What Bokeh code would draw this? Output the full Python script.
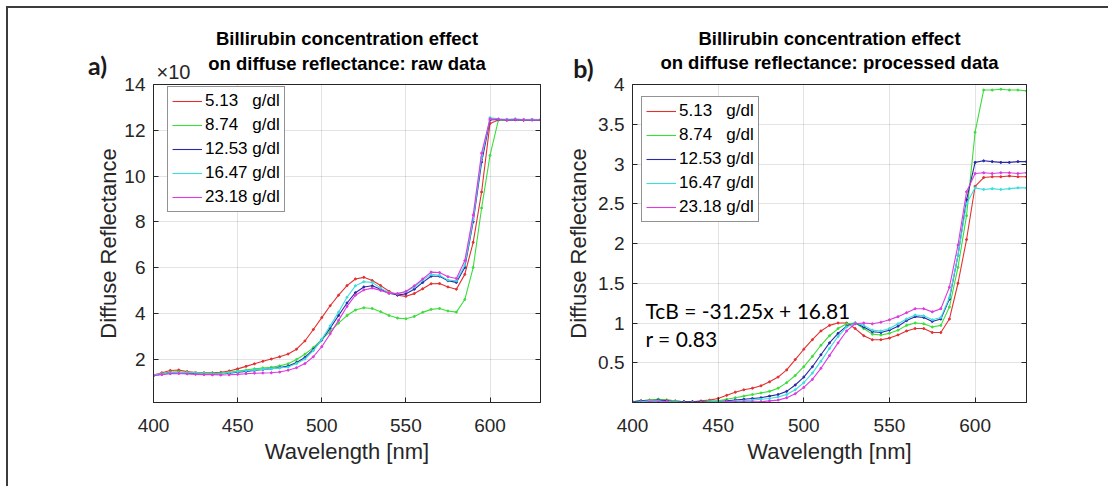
from bokeh.plotting import figure
from bokeh.models import (Range1d, FixedTicker, LinearAxis, Label, Legend, LegendItem,
                          NumeralTickFormatter)
from bokeh.layouts import row, column
from bokeh.embed import file_html
from bokeh.resources import INLINE

# ---------------- data ----------------
wavelength = [400, 405, 410, 415, 420, 425, 430, 435, 440, 445, 450, 455, 460, 465, 470, 475,
              480, 485, 490, 495, 500, 505, 510, 515, 520, 525, 530, 535, 540, 545, 550, 555,
              560, 565, 570, 575, 580, 585, 590, 595, 600, 605, 610, 615, 620, 625, 630]

series_labels = ["5.13\u00a0\u00a0\u00a0g/dl", "8.74\u00a0\u00a0\u00a0g/dl", "12.53 g/dl",
                 "16.47 g/dl", "23.18 g/dl"]

# panel a: raw data
raw_513 = [1.30, 1.40, 1.50, 1.52, 1.45, 1.41, 1.40, 1.40, 1.42, 1.48, 1.57, 1.68, 1.79, 1.90, 2.00, 2.10,
           2.22, 2.43, 2.79, 3.29, 3.81, 4.33, 4.79, 5.21, 5.50, 5.57, 5.43, 5.21, 4.96, 4.79, 4.74, 4.86,
           5.07, 5.29, 5.30, 5.15, 5.05, 5.70, 7.10, 9.30, 12.30, 12.45, 12.45, 12.47, 12.45, 12.46, 12.45]
raw_874 = [1.30, 1.36, 1.43, 1.44, 1.42, 1.40, 1.39, 1.38, 1.38, 1.42, 1.47, 1.52, 1.57, 1.61, 1.64, 1.70,
           1.79, 1.98, 2.21, 2.50, 2.86, 3.21, 3.57, 3.90, 4.14, 4.24, 4.21, 4.07, 3.90, 3.79, 3.76, 3.86,
           4.04, 4.17, 4.21, 4.10, 4.05, 4.60, 6.00, 8.60, 10.90, 12.45, 12.45, 12.46, 12.45, 12.45, 12.44]
raw_1253 = [1.28, 1.34, 1.40, 1.41, 1.38, 1.36, 1.35, 1.34, 1.35, 1.38, 1.42, 1.46, 1.50, 1.54, 1.58, 1.63,
            1.69, 1.85, 2.07, 2.42, 2.83, 3.35, 3.90, 4.45, 4.90, 5.15, 5.20, 5.05, 4.88, 4.80, 4.85, 5.05,
            5.35, 5.62, 5.62, 5.42, 5.35, 6.00, 8.00, 10.60, 12.45, 12.47, 12.45, 12.46, 12.45, 12.46, 12.45]
raw_1647 = [1.30, 1.35, 1.40, 1.41, 1.40, 1.39, 1.37, 1.35, 1.35, 1.40, 1.45, 1.49, 1.52, 1.55, 1.58, 1.61,
            1.65, 1.80, 2.00, 2.37, 2.86, 3.45, 4.05, 4.70, 5.20, 5.38, 5.35, 5.10, 4.90, 4.85, 4.95, 5.15,
            5.45, 5.70, 5.66, 5.45, 5.42, 6.10, 8.10, 10.80, 12.55, 12.50, 12.48, 12.50, 12.47, 12.48, 12.47]
raw_2318 = [1.28, 1.32, 1.36, 1.37, 1.35, 1.33, 1.32, 1.31, 1.30, 1.31, 1.33, 1.36, 1.38, 1.39, 1.40, 1.43,
            1.51, 1.62, 1.80, 2.10, 2.54, 3.10, 3.69, 4.30, 4.79, 5.02, 5.10, 5.00, 4.88, 4.86, 4.95, 5.20,
            5.50, 5.80, 5.78, 5.60, 5.52, 6.30, 8.30, 11.00, 12.50, 12.48, 12.45, 12.47, 12.46, 12.45, 12.46]

# panel b: processed data
proc_513 = [0.01, 0.02, 0.03, 0.04, 0.03, 0.02, 0.01, 0.01, 0.02, 0.03, 0.05, 0.09, 0.13, 0.16, 0.18, 0.21,
            0.26, 0.32, 0.41, 0.54, 0.67, 0.79, 0.90, 0.97, 1.00, 1.00, 0.93, 0.84, 0.79, 0.79, 0.81, 0.85,
            0.90, 0.93, 0.93, 0.88, 0.88, 1.05, 1.50, 2.05, 2.72, 2.83, 2.84, 2.84, 2.85, 2.84, 2.84]
proc_874 = [0.01, 0.02, 0.03, 0.04, 0.03, 0.02, 0.01, 0.01, 0.01, 0.02, 0.02, 0.04, 0.06, 0.08, 0.10, 0.12,
            0.14, 0.18, 0.25, 0.34, 0.45, 0.58, 0.72, 0.84, 0.93, 0.99, 1.00, 0.93, 0.86, 0.85, 0.87, 0.91,
            0.97, 1.00, 0.99, 0.95, 0.97, 1.20, 1.70, 2.35, 3.40, 3.93, 3.93, 3.94, 3.93, 3.93, 3.92]
proc_1253 = [0.01, 0.02, 0.02, 0.03, 0.02, 0.01, 0.01, 0.01, 0.01, 0.01, 0.01, 0.02, 0.03, 0.04, 0.05, 0.06,
             0.08, 0.10, 0.14, 0.22, 0.32, 0.45, 0.60, 0.75, 0.87, 0.96, 1.00, 0.95, 0.89, 0.88, 0.91, 0.96,
             1.03, 1.08, 1.07, 1.02, 1.05, 1.30, 1.85, 2.55, 3.02, 3.04, 3.03, 3.02, 3.02, 3.03, 3.03]
proc_1647 = [0.00, 0.01, 0.02, 0.02, 0.01, 0.01, 0.00, 0.00, 0.00, 0.01, 0.01, 0.01, 0.02, 0.02, 0.03, 0.04,
             0.05, 0.07, 0.10, 0.16, 0.25, 0.37, 0.52, 0.68, 0.83, 0.95, 1.00, 0.97, 0.91, 0.90, 0.93, 0.99,
             1.05, 1.10, 1.09, 1.04, 1.07, 1.32, 1.85, 2.50, 2.70, 2.68, 2.69, 2.68, 2.69, 2.70, 2.70]
proc_2318 = [0.00, 0.00, 0.01, 0.01, 0.01, 0.00, 0.00, 0.00, 0.00, 0.00, 0.00, 0.01, 0.01, 0.01, 0.01, 0.01,
             0.02, 0.03, 0.06, 0.11, 0.19, 0.29, 0.43, 0.59, 0.75, 0.90, 0.99, 1.00, 0.99, 1.01, 1.04, 1.08,
             1.13, 1.18, 1.18, 1.14, 1.18, 1.45, 1.98, 2.65, 2.88, 2.89, 2.88, 2.89, 2.89, 2.88, 2.89]

x_ticks = [400, 450, 500, 550, 600]
y_ticks_a = [2, 4, 6, 8, 10, 12, 14]
y_ticks_b = [0.5, 1, 1.5, 2, 2.5, 3, 3.5, 4]

colors = ["#e42f2f", "#3ade3a", "#2a2aa8", "#3adede", "#de3ade"]

TXT = "#262626"
FONT = "Liberation Sans"

# page layout: content starts at (8, 8) after margin + border
OX = 8
HEADER_H = 84          # header overlay spans page y 8..92
ROW_TOP = 75           # plot row starts at page y 75 (header overlaps it by 17 px)
ROW_H = 486 - ROW_TOP


def make_panel(width, height, lb, rb, tb, bb, yr, yticks, series, leg_loc, ylabel_standoff):
    p = figure(width=width, height=height, output_backend="svg", toolbar_location=None,
               title=None, x_range=Range1d(400, 630), y_range=Range1d(*yr),
               min_border_left=lb, min_border_right=rb, min_border_top=tb, min_border_bottom=bb)
    p.background_fill_color = "white"
    p.border_fill_color = "white"
    p.outline_line_color = TXT
    p.outline_line_width = 1
    for ax in (p.xaxis[0], p.yaxis[0]):
        ax.major_tick_in = 5
        ax.major_tick_out = 0
        ax.minor_tick_line_color = None
        ax.axis_line_color = TXT
        ax.major_tick_line_color = TXT
        ax.major_label_text_font = FONT
        ax.major_label_text_font_size = "19px"
        ax.major_label_text_color = TXT
        ax.axis_label_text_font = FONT
        ax.axis_label_text_font_size = "22px"
        ax.axis_label_text_font_style = "normal"
        ax.axis_label_text_color = TXT
    p.xaxis.ticker = FixedTicker(ticks=x_ticks)
    p.yaxis.ticker = FixedTicker(ticks=yticks)
    p.yaxis.formatter = NumeralTickFormatter(format="0.[0]")
    p.xaxis.axis_label = "Wavelength [nm]"
    p.yaxis.axis_label = "Diffuse Reflectance"
    p.xaxis.major_label_standoff = 16
    p.yaxis.major_label_standoff = 8
    p.xaxis.axis_label_standoff = 4
    p.yaxis.axis_label_standoff = ylabel_standoff
    # box ticks on the right side
    right = LinearAxis(ticker=FixedTicker(ticks=yticks), major_label_text_color=None,
                       major_label_text_font_size="1px",
                       major_tick_in=5, major_tick_out=0, minor_tick_line_color=None,
                       axis_line_color=TXT, major_tick_line_color=TXT, major_label_standoff=0)
    p.add_layout(right, "right")
    p.grid.grid_line_color = TXT
    p.grid.grid_line_alpha = 0.13
    p.xgrid.ticker = FixedTicker(ticks=x_ticks)
    p.ygrid.ticker = FixedTicker(ticks=yticks)

    items = []
    for lab, col, ys in zip(series_labels, colors, series):
        lr = p.line(wavelength, ys, line_color=col, line_width=1.1)
        p.scatter(wavelength, ys, size=2.0, color=col)
        items.append(LegendItem(label=lab, renderers=[lr]))
    leg = Legend(items=items, location=leg_loc, label_text_font=FONT, label_text_font_size="17px",
                 label_text_color="#000000", glyph_width=30, glyph_height=20, label_height=20,
                 label_width=10, label_standoff=3, spacing=4, padding=4, margin=0,
                 border_line_color=TXT, border_line_width=1,
                 background_fill_color="white", background_fill_alpha=1)
    p.add_layout(leg)
    return p


# header overlay carrying titles and panel letters (transparent, drawn on top)
header = figure(width=1100, height=HEADER_H, output_backend="svg", toolbar_location=None,
                title=None, x_axis_location=None, y_axis_location=None,
                x_range=Range1d(0, 1), y_range=Range1d(0, 1),
                min_border_left=0, min_border_right=0, min_border_top=0, min_border_bottom=0,
                styles={"margin-bottom": f"-{OX + HEADER_H - ROW_TOP}px", "position": "relative",
                        "z-index": "5"})
header.outline_line_color = None
header.grid.visible = False
header.background_fill_color = None
header.border_fill_color = None


def hput(px, py, text, **kw):
    header.add_layout(Label(x=px - OX, y=(OX + HEADER_H) - py, x_units="screen", y_units="screen",
                            text=text, **kw))


title_kw = dict(text_font=FONT, text_font_size="18.5px", text_font_style="bold",
                text_color="#000000", text_align="center", text_baseline="middle")
letter_kw = dict(text_font="Lato", text_font_size="25px", text_font_style="bold",
                 text_color="#1a1a1a", text_align="center", text_baseline="middle")

hput(346.5, 38, "Billirubin concentration effect", **title_kw)
hput(346.5, 63, "on diffuse reflectance: raw data", **title_kw)
hput(829, 38, "Billirubin concentration effect", **title_kw)
hput(829, 62, "on diffuse reflectance: processed data", **title_kw)
hput(97, 64, "a)", **letter_kw)
hput(583, 67, "b)", **letter_kw)
hput(156, 71, "\u00d710", text_font=FONT, text_font_size="20px", text_color=TXT,
     text_align="left", text_baseline="middle")

# plot panels (page y ROW_TOP..486)
pa = make_panel(552, ROW_H, 145, 20, 80 - ROW_TOP, ROW_H - (402 - ROW_TOP), (0.1, 14), y_ticks_a,
                [raw_513, raw_874, raw_1253, raw_1647, raw_2318], (14, 190), 0)
pb = make_panel(548, ROW_H, 72, 82, 84 - ROW_TOP, ROW_H - (403 - ROW_TOP), (0, 4), y_ticks_b,
                [proc_513, proc_874, proc_1253, proc_1647, proc_2318], (9, 180), 4)


def put(p, fx0, fy0, px, py, text, **kw):
    p.add_layout(Label(x=px - fx0, y=fy0 - py, x_units="screen", y_units="screen", text=text, **kw))


put(pb, 632, 403, 645, 311, "TcB = -31.25x + 16.81", text_font="Lato", text_font_size="21px",
    text_color="#000000", text_align="left", text_baseline="middle")
put(pb, 632, 403, 645, 339, "r = 0.83", text_font="Lato", text_font_size="21px",
    text_color="#000000", text_align="left", text_baseline="middle")

layout = column(header, row(pa, pb),
                styles={"border-top": "2px solid #3c3c3c", "border-left": "2px solid #3c3c3c",
                        "margin-left": "6px", "margin-top": "6px"})

open("out.html", "w").write(file_html(layout, INLINE))
